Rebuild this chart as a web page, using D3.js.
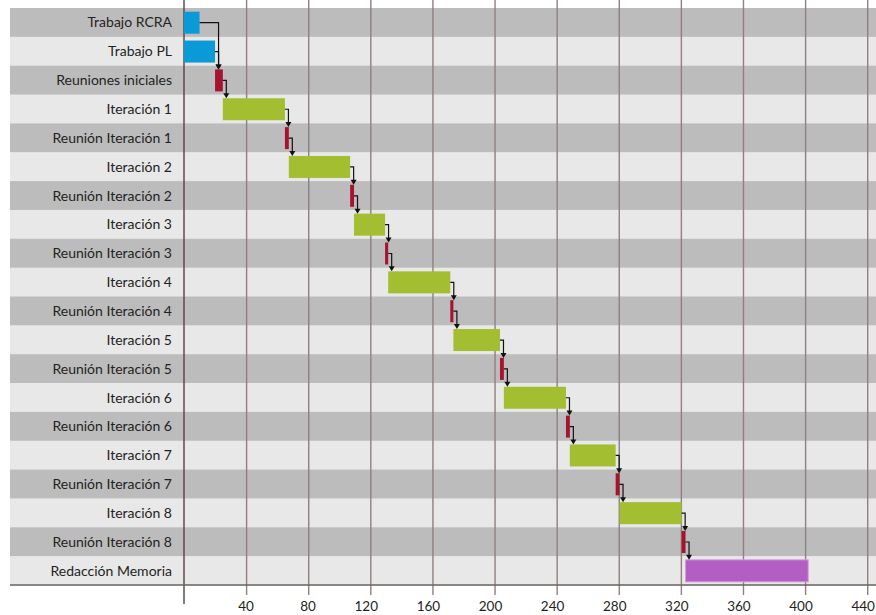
<!DOCTYPE html>
<html>
<head>
<meta charset="utf-8">
<script src="https://cdn.jsdelivr.net/npm/d3@7"></script>
<style>
  body { margin: 0; background: #fff; }
  svg { display: block; }
  .lbl { font-family: Lato, "Open Sans", sans-serif; font-size: 14px; fill: #231f20; }
  .tick text { font-family: Lato, "Open Sans", sans-serif; font-size: 13.5px; fill: #231f20; }
</style>
</head>
<body>
<div id="chart"></div>
<script>
// tareas del diagrama de Gantt
const tasks = [
  "Trabajo RCRA", "Trabajo PL", "Reuniones iniciales",
  "Iteración 1", "Reunión Iteración 1", "Iteración 2", "Reunión Iteración 2",
  "Iteración 3", "Reunión Iteración 3", "Iteración 4", "Reunión Iteración 4",
  "Iteración 5", "Reunión Iteración 5", "Iteración 6", "Reunión Iteración 6",
  "Iteración 7", "Reunión Iteración 7", "Iteración 8", "Reunión Iteración 8",
  "Redacción Memoria"
];
const starts = [0, 0, 20, 25, 65, 67.5, 107, 109.5, 129.5, 131.5, 171.5, 173.5, 203.5, 206, 246, 248.5, 278, 280.5, 320.5, 323];
const ends   = [10, 20, 25, 65, 67.5, 107, 109.5, 129.5, 131.5, 171.5, 173.5, 203.5, 206, 246, 248.5, 278, 280.5, 320.5, 323, 402];
const kinds  = ["trabajo", "trabajo", "reunion",
  "iter", "reunion", "iter", "reunion", "iter", "reunion", "iter", "reunion",
  "iter", "reunion", "iter", "reunion", "iter", "reunion", "iter", "reunion",
  "memoria"];
// dependencias [origen, destino] (índices de tarea)
const links = [[0, 2], [1, 2], [2, 3], [3, 4], [4, 5], [5, 6], [6, 7], [7, 8], [8, 9], [9, 10],
  [10, 11], [11, 12], [12, 13], [13, 14], [14, 15], [15, 16], [16, 17], [17, 18], [18, 19]];
const tickVals = [40, 80, 120, 160, 200, 240, 280, 320, 360, 400, 440];

const W = 876, H = 615;
const svg = d3.select('#chart').append('svg').attr('width', W).attr('height', H);

const x = d3.scaleLinear().domain([0, 440]).range([184, 867.2]);
const y = d3.scaleBand().domain(tasks).range([8, 585]).padding(0);
const color = d3.scaleOrdinal()
  .domain(["trabajo", "reunion", "iter", "memoria"])
  .range(["#0a9ad8", "#a5132f", "#a3be31", "#b25ec2"]);

// franjas alternas
svg.append('g').selectAll('rect')
  .data(tasks)
  .enter().append('rect')
  .attr('x', 10)
  .attr('y', d => y(d))
  .attr('width', W - 10)
  .attr('height', y.bandwidth() + 0.5)
  .attr('fill', (d, i) => i % 2 === 0 ? '#bcbcbc' : '#e8e8e8');

// eje X con líneas de rejilla
const axis = svg.append('g')
  .attr('transform', 'translate(0,595)')
  .call(d3.axisBottom(x).tickValues(tickVals).tickSize(-595).tickPadding(6.5));
axis.select('.domain').remove();
axis.selectAll('.tick line').attr('stroke', '#8e817e').attr('stroke-width', 1.4);
// las etiquetas van alineadas a la derecha, un poco pasada la marca
axis.selectAll('.tick text').attr('text-anchor', 'end').attr('x', 7.2);

// línea vertical del eje
svg.append('line')
  .attr('x1', x(0)).attr('x2', x(0))
  .attr('y1', 0).attr('y2', 604)
  .attr('stroke', '#4f4543').attr('stroke-width', 1.4);

// línea horizontal inferior
svg.append('line')
  .attr('x1', 10).attr('x2', W)
  .attr('y1', 585).attr('y2', 585)
  .attr('stroke', '#6a6260').attr('stroke-width', 1.4);

// etiquetas de tarea
svg.append('g').selectAll('text')
  .data(tasks)
  .enter().append('text')
  .attr('class', 'lbl')
  .attr('x', 172)
  .attr('y', d => y(d) + y.bandwidth() / 2)
  .attr('dy', '0.36em')
  .attr('text-anchor', 'end')
  .text(d => d);

// barras
const barOff = 3.7, barH = 22;
svg.append('g').selectAll('rect')
  .data(tasks)
  .enter().append('rect')
  .attr('x', (d, i) => x(starts[i]))
  .attr('y', d => y(d) + barOff)
  .attr('width', (d, i) => x(ends[i]) - x(starts[i]))
  .attr('height', barH)
  .attr('fill', (d, i) => color(kinds[i]))
  .attr('stroke', (d, i) => kinds[i] === 'memoria' ? '#d49ddd' : 'none')
  .attr('stroke-width', 1);

// flechas de dependencia
const dep = svg.append('g');
links.forEach(([a, b]) => {
  const sx = x(ends[a]);
  const sy = y(tasks[a]) + barOff + barH / 2;
  const ax = Math.max(x(ends[a]), x(starts[b])) + 3.5;
  const ty = y(tasks[b]) + barOff;
  dep.append('path')
    .attr('d', `M${sx},${sy}H${ax}V${ty - 4}`)
    .attr('fill', 'none')
    .attr('stroke', '#111')
    .attr('stroke-width', 1.2);
  dep.append('path')
    .attr('d', `M${ax - 3},${ty - 5}L${ax + 3},${ty - 5}L${ax},${ty}Z`)
    .attr('fill', '#111');
});
</script>
</body>
</html>
